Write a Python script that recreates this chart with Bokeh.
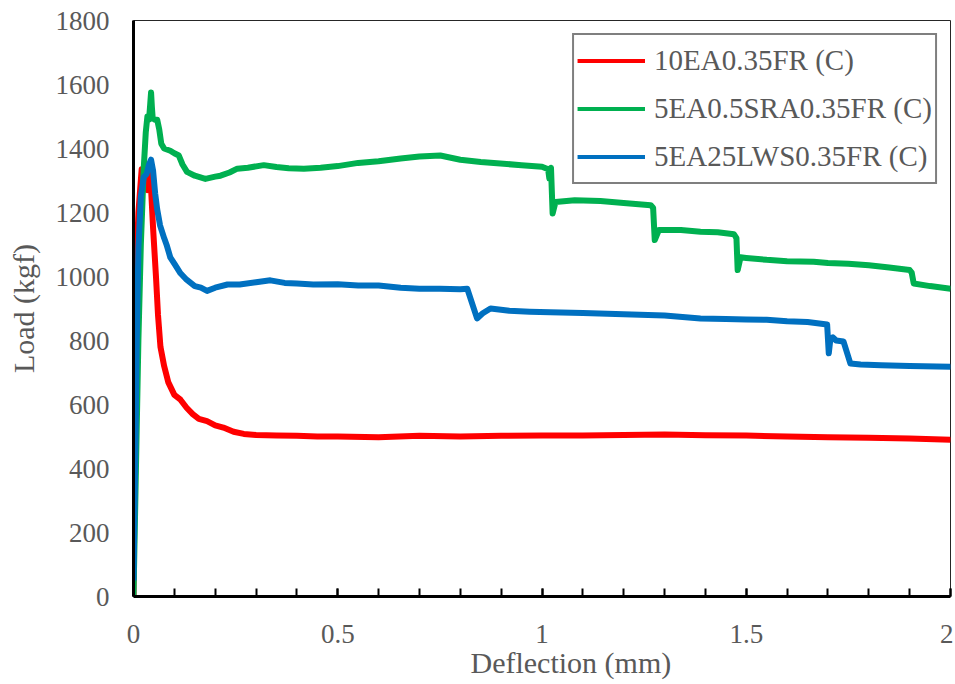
from bokeh.plotting import figure
from bokeh.models import Legend, LegendItem, SingleIntervalTicker, Title
from bokeh.embed import file_html
from bokeh.resources import INLINE

# ---- data ----
red_x = [0.0, 0.002, 0.006, 0.012, 0.02, 0.026, 0.03, 0.034, 0.038, 0.042, 0.048, 0.055, 0.06,
         0.066, 0.075, 0.085, 0.1, 0.115, 0.13, 0.145, 0.16, 0.18, 0.2, 0.22, 0.245, 0.27, 0.3,
         0.35, 0.4, 0.45, 0.5, 0.6, 0.7, 0.8, 0.9, 1.0, 1.1, 1.2, 1.3, 1.4, 1.5, 1.6, 1.7, 1.8,
         1.9, 2.0]
red_y = [0, 700, 1000, 1200, 1335, 1330, 1300, 1270, 1330, 1300, 1150, 1000, 880,
         780, 720, 670, 630, 615, 590, 570, 555, 548, 535, 528, 515, 508, 505,
         503, 502, 500, 500, 498, 502, 500, 502, 503, 503, 505, 506, 504, 503, 500, 498, 496,
         494, 490]

green_x = [0.0, 0.006, 0.012, 0.018, 0.025, 0.03, 0.034, 0.038, 0.041, 0.043, 0.045, 0.047,
           0.052, 0.058, 0.063, 0.068, 0.075, 0.09, 0.1, 0.111, 0.12, 0.131, 0.15, 0.176, 0.2,
           0.213, 0.235, 0.254, 0.28, 0.319, 0.35, 0.38, 0.417, 0.458, 0.5, 0.55, 0.6, 0.654,
           0.7, 0.751, 0.8, 0.85, 0.898, 0.95, 1.0, 1.015, 1.018, 1.022, 1.026, 1.033, 1.08,
           1.143, 1.2, 1.266, 1.272, 1.276, 1.286, 1.34, 1.388, 1.43, 1.47, 1.476, 1.479,
           1.486, 1.5, 1.55, 1.6, 1.665, 1.7, 1.75, 1.8, 1.85, 1.9, 1.905, 1.91, 1.95, 2.0]
green_y = [0, 400, 800, 1100, 1337, 1450, 1500, 1490, 1540, 1575, 1530, 1495,
           1490, 1490, 1460, 1415, 1400, 1393, 1385, 1378, 1350, 1327, 1315, 1305, 1312,
           1315, 1325, 1337, 1340, 1348, 1342, 1338, 1337, 1340, 1345, 1355, 1360, 1369,
           1375, 1378, 1365, 1358, 1353, 1348, 1343, 1335, 1306, 1340, 1197, 1233, 1238,
           1236, 1230, 1223, 1215, 1114, 1145, 1145, 1140, 1138, 1132, 1120, 1020,
           1060, 1058, 1052, 1048, 1046, 1042, 1040, 1035, 1028, 1020, 1012, 978, 970, 962]

blue_x = [0.0, 0.004, 0.008, 0.012, 0.018, 0.025, 0.032, 0.038, 0.043, 0.048, 0.053, 0.058,
          0.065, 0.075, 0.082, 0.09, 0.1, 0.115, 0.13, 0.15, 0.165, 0.18, 0.2, 0.23, 0.26,
          0.3, 0.335, 0.37, 0.4, 0.44, 0.5, 0.55, 0.6, 0.654, 0.7, 0.75, 0.8, 0.817, 0.841,
          0.855, 0.874, 0.92, 0.97, 1.02, 1.1, 1.2, 1.3, 1.388, 1.45, 1.5, 1.55, 1.6, 1.65,
          1.698, 1.702, 1.706, 1.712, 1.72, 1.738, 1.755, 1.78, 1.83, 1.9, 2.0]
blue_y = [50, 400, 800, 1090, 1250, 1310, 1320, 1350, 1365, 1330, 1260, 1210,
          1160, 1120, 1095, 1060, 1040, 1010, 990, 970, 965, 955, 965, 975, 975,
          982, 988, 980, 978, 975, 976, 972, 972, 965, 962, 962, 960, 962, 869,
          885, 900, 893, 890, 888, 886, 882, 878, 869, 867, 866, 865, 860, 858,
          850, 760, 805, 810, 800, 797, 728, 725, 723, 720, 718]

series_names = ["10EA0.35FR (C)", "5EA0.5SRA0.35FR (C)", "5EA25LWS0.35FR (C)"]
series_colors = ["#FF0000", "#00B050", "#0070C0"]

x_ticks = [0, 0.5, 1, 1.5, 2]
y_ticks = [0, 200, 400, 600, 800, 1000, 1200, 1400, 1600, 1800]

FONT = "Liberation Serif"
GRAY = "#595959"

p = figure(width=953, height=680, x_range=(0, 2), y_range=(0, 1800),
           output_backend="svg", toolbar_location=None,
           min_border_left=133, min_border_right=3, min_border_top=20,
           min_border_bottom=10)

p.xgrid.visible = False
p.ygrid.visible = False
p.outline_line_color = "#262626"
p.outline_line_width = 1
p.background_fill_color = "white"
p.border_fill_color = "white"

data = [(red_x, red_y), (green_x, green_y), (blue_x, blue_y)]

# thinner copies used for the legend glyphs (hidden beneath the data lines)
legend_renderers = []
for (xs, ys), c in zip(data, series_colors):
    legend_renderers.append(p.line(xs, ys, line_color=c, line_width=4))

# data lines
for (xs, ys), c in zip(data, series_colors):
    p.line(xs, ys, line_color=c, line_width=6, line_join="round")

items = [LegendItem(label=n, renderers=[r]) for n, r in zip(series_names, legend_renderers)]
legend = Legend(items=items, location="top_right")
legend.label_text_font = FONT
legend.label_text_font_size = "29px"
legend.label_text_color = GRAY
legend.border_line_color = "black"
legend.border_line_width = 2
legend.glyph_width = 68
legend.glyph_height = 45
legend.label_height = 45
legend.label_standoff = 9
legend.padding = 3
legend.spacing = 3
legend.margin = 13
legend.background_fill_color = "white"
legend.background_fill_alpha = 1
p.add_layout(legend, "center")

# x axis
p.xaxis.ticker = SingleIntervalTicker(interval=0.5, num_minor_ticks=5)
p.xaxis.major_label_overrides = {float(t): str(t) for t in x_ticks}
p.xaxis.axis_line_color = "black"
p.xaxis.axis_line_width = 3
p.xaxis.major_tick_in = 8
p.xaxis.major_tick_out = 0
p.xaxis.minor_tick_in = 8
p.xaxis.minor_tick_out = 0
p.xaxis.major_tick_line_width = 2
p.xaxis.minor_tick_line_width = 2
p.xaxis.major_tick_line_color = "black"
p.xaxis.minor_tick_line_color = "black"
p.xaxis.major_label_standoff = 28

xtitle = Title(text="Deflection (mm)", align="left", offset=337,
               vertical_align="top", standoff=0,
               text_font=FONT, text_font_size="30px", text_color=GRAY,
               text_font_style="normal")
p.add_layout(xtitle, "below")

# y axis
p.yaxis.ticker = SingleIntervalTicker(interval=200, num_minor_ticks=0)
p.yaxis.major_label_overrides = {t: str(t) for t in y_ticks}
p.yaxis.axis_label = "Load (kgf)"
p.yaxis.axis_line_color = "black"
p.yaxis.axis_line_width = 3
p.yaxis.major_tick_in = 0
p.yaxis.major_tick_out = 0
p.yaxis.minor_tick_line_color = None
p.yaxis.major_label_standoff = 24
p.yaxis.axis_label_standoff = 13

for ax in (p.xaxis, p.yaxis):
    ax.major_label_text_font = FONT
    ax.major_label_text_font_size = "27px"
    ax.major_label_text_color = GRAY
    ax.axis_label_text_font = FONT
    ax.axis_label_text_color = GRAY
    ax.axis_label_text_font_style = "normal"
p.yaxis.axis_label_text_font_size = "30px"

open("out.html", "w").write(file_html(p, INLINE))
